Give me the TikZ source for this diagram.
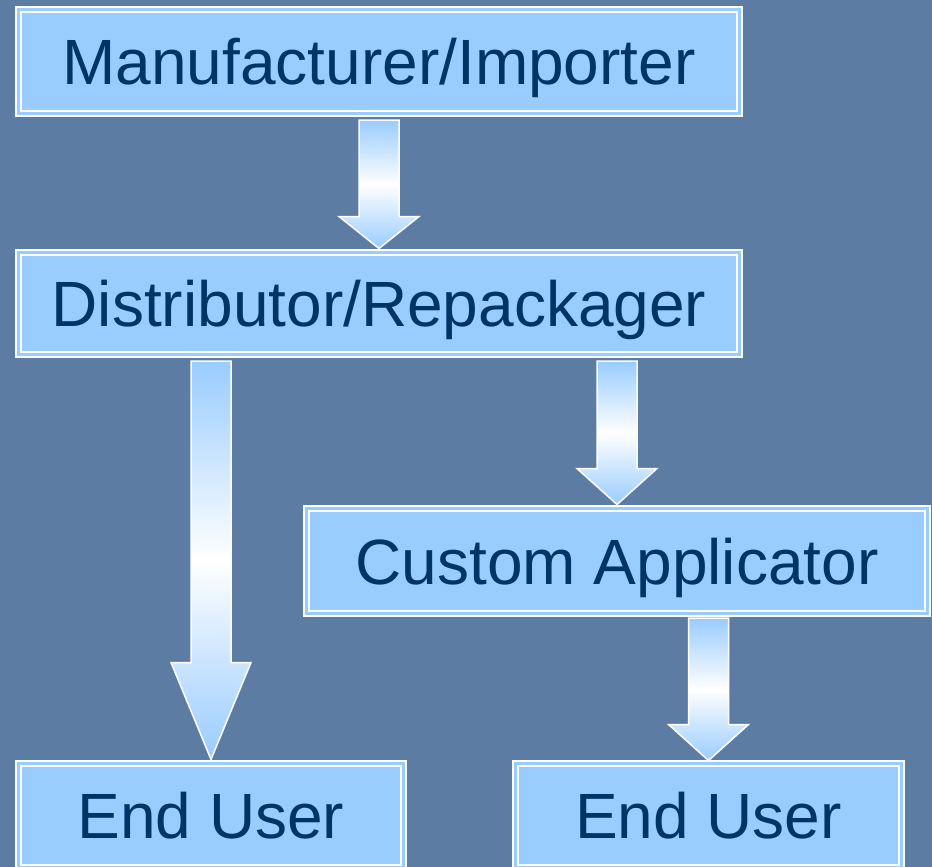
\documentclass[tikz,border=0pt]{standalone}
\usepackage{fontspec}
\setmainfont{Liberation Sans}
\usetikzlibrary{positioning, calc}
\definecolor{PanelBlue}{RGB}{92,124,163}
\definecolor{BoxBlue}{RGB}{153,204,255}
\definecolor{InkNavy}{RGB}{0,51,102}

% block arrow: tail, tip, head length
\newcommand{\flowarrow}[3]{%
  \coordinate (tail) at (#1);
  \coordinate (tip) at (#2);
  \draw [flow] ($(tail)+(-20,0)$) -- ($(tip)+(-20,#3)$) -- ($(tip)+(-40,#3)$) -- (tip)
    -- ($(tip)+(40,#3)$) -- ($(tip)+(20,#3)$) -- ($(tail)+(20,0)$) -- cycle;
}

\begin{document}
\begin{tikzpicture}[
          x=1pt, y=1pt,
          stage/.style={rectangle, draw=white, line width=2pt, double=BoxBlue, double distance=3pt, fill=BoxBlue, text=InkNavy, font=\fontsize{64}{70}\selectfont, text height=46pt, text depth=0pt, inner sep=0pt, outer sep=0pt},
          flow/.style={draw=white, line width=1.5pt, top color=BoxBlue, bottom color=BoxBlue, middle color=white}
        ]
          \fill [PanelBlue] (0,0) rectangle (932,-867);
          \useasboundingbox (0,0) rectangle (932,-867);

          \node (maker) [stage, minimum width=721pt, minimum height=104pt] at (379,-61.5) {Manufacturer/Importer};
          \node (distributor) [stage, minimum width=721pt, minimum height=102pt, below=139pt of maker] {Distributor/Repackager};
          \node (applicator) [stage, minimum width=621pt, minimum height=105pt, below=154pt of distributor, xshift=238pt] {Custom Applicator};
          \node (user) [stage, minimum width=385pt, minimum height=104pt, below=409pt of distributor, xshift=-168pt] {End User};
          \node (appuser) [stage, minimum width=386pt, minimum height=104pt, below=150pt of applicator, xshift=91.5pt] {End User};

          \flowarrow{$(maker.south)+(0,-6.5)$}{$(distributor.north)+(0,4)$}{32}
          \flowarrow{$(distributor.south -| user.north)+(0,-6.5)$}{$(user.north)+(0,4)$}{97}
          \flowarrow{$(distributor.south -| applicator.north)+(0,-6.5)$}{$(applicator.north)+(0,4)$}{36}
          \flowarrow{$(applicator.south -| appuser.north)+(0,-4.5)$}{$(appuser.north)+(0,3)$}{36}
        \end{tikzpicture}
\end{document}
